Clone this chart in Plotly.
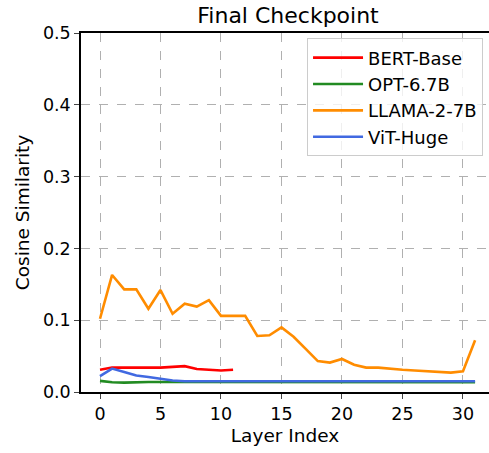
import plotly.graph_objects as go

layers_bert = list(range(12))
layers_32 = list(range(32))

bert = [0.031, 0.034, 0.034, 0.034, 0.033, 0.034, 0.035, 0.036, 0.032, 0.031, 0.030, 0.031]
opt = [0.0155, 0.0135, 0.013, 0.014, 0.014, 0.014, 0.014, 0.014, 0.014, 0.014, 0.014, 0.014,
       0.014, 0.014, 0.014, 0.014, 0.0135, 0.0135, 0.0135, 0.0135, 0.0135, 0.0135, 0.0135, 0.0135,
       0.0135, 0.0135, 0.0135, 0.0135, 0.0135, 0.013, 0.013, 0.0135]
llama = [0.102, 0.163, 0.143, 0.143, 0.116, 0.142, 0.109, 0.123, 0.119, 0.128, 0.106, 0.106,
         0.106, 0.078, 0.079, 0.090, 0.077, 0.060, 0.043, 0.041, 0.046, 0.038, 0.034, 0.034,
         0.032, 0.031, 0.030, 0.029, 0.028, 0.027, 0.029, 0.072]
vit = [0.022, 0.0326, 0.028, 0.023, 0.021, 0.018, 0.016, 0.015, 0.015, 0.015, 0.015, 0.015,
       0.015, 0.0152, 0.0155, 0.0155, 0.0155, 0.015, 0.015, 0.015, 0.015, 0.015, 0.015, 0.015,
       0.015, 0.0148, 0.0148, 0.0145, 0.0145, 0.0145, 0.0148, 0.015]

series = [
    ("BERT-Base", layers_bert, bert, "#ff0000"),
    ("OPT-6.7B", layers_32, opt, "#228b22"),
    ("LLAMA-2-7B", layers_32, llama, "#ff8c00"),
    ("ViT-Huge", layers_32, vit, "#4169e1"),
]

x_ticks = [0, 5, 10, 15, 20, 25, 30]
y_ticks = [0.0, 0.1, 0.2, 0.3, 0.4, 0.5]

fig = go.Figure()
for name, xs, ys, col in series:
    fig.add_trace(go.Scatter(x=xs, y=ys, mode="lines", name=name, legendgroup=name,
                             line=dict(color=col, width=2.6)))

font = "DejaVu Sans"
fig.update_layout(
    width=489, height=453,
    margin=dict(l=81, r=0, t=33, b=61, autoexpand=False),
    paper_bgcolor="white", plot_bgcolor="white",
    font=dict(family=font, size=17.5, color="black"),
    title=dict(text="Final Checkpoint", x=0.589, xanchor="center", y=0.967, yanchor="middle",
               font=dict(size=22)),
    showlegend=True,
    legend=dict(x=0.554, y=0.985, xanchor="left", yanchor="top",
                bgcolor="rgba(255,255,255,0.8)", bordercolor="#cccccc", borderwidth=1,
                font=dict(size=18), tracegroupgap=0, itemwidth=50),
    xaxis=dict(range=[-1.57, 32.15], tickvals=x_ticks, ticks="outside", ticklen=5, tickwidth=1.2,
               showline=True, linecolor="black", linewidth=1.5, mirror=True, automargin=False,
               showgrid=True, gridcolor="#b0b0b0", griddash="dash", gridwidth=1,
               zeroline=False, title=dict(text="Layer Index", font=dict(size=18.5), standoff=6)),
    yaxis=dict(range=[0, 0.5], tickvals=y_ticks, ticktext=[f"{v:.1f}" for v in y_ticks],
               ticks="outside", ticklen=5, tickwidth=1.2, automargin=False,
               showline=True, linecolor="black", linewidth=1.5,
               showgrid=True, gridcolor="#b0b0b0", griddash="dash", gridwidth=1,
               zeroline=False, title=dict(text="Cosine Similarity", font=dict(size=18.5), standoff=8)),
)
fig.write_html("out.html", config={"displayModeBar": False},
               post_script="document.body.style.margin='0px';")
